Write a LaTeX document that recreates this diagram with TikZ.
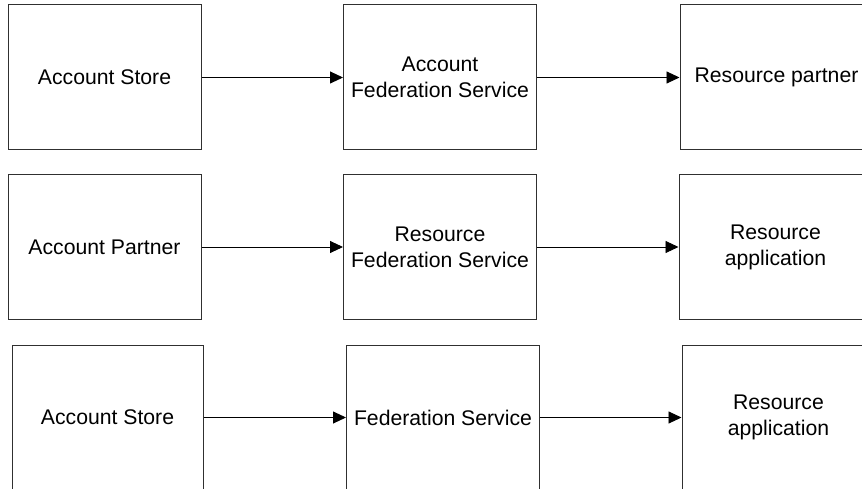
\documentclass[tikz,border=0pt]{standalone}
\usepackage{fontspec}
\setmainfont{Liberation Sans}
\usetikzlibrary{arrows.meta}
\definecolor{boxline}{HTML}{303030}
\begin{document}
\begin{tikzpicture}[x=1pt,y=-1pt,
  blockbox/.style={draw=boxline,line width=1pt,minimum width=193pt,minimum height=145pt,inner sep=0pt,align=center,font=\fontsize{21.2}{26}\selectfont},
  flow/.style={line width=0.9pt,-{Triangle[length=13pt,width=12pt]}}]
\useasboundingbox (0,0) rectangle (862,489);
\clip (0,0) rectangle (862,489);
% row 1
\node[blockbox] (a1) at (104.5,77.5) {Account Store};
\node[blockbox] (a2) at (440,77.5) {Account\\Federation Service};
\node[blockbox] (a3) at (776.5,77.5) {Resource partner};
% row 2
\node[blockbox] (b1) at (104.5,247) {Account Partner};
\node[blockbox] (b2) at (440,247) {Resource\\Federation Service};
\node[blockbox] (b3) at (775.5,247) {Resource\\application};
% row 3
\node[blockbox,minimum width=191pt] (c1) at (107.5,417.5) {Account Store};
\node[blockbox] (c2) at (443,417.5) {Federation Service};
\node[blockbox] (c3) at (778.5,417.5) {Resource\\application};
\draw[flow] (a1) -- (a2);
\draw[flow] (a2) -- (a3);
\draw[flow] (b1) -- (b2);
\draw[flow] (b2) -- (b3);
\draw[flow] (c1) -- (c2);
\draw[flow] (c2) -- (c3);
\end{tikzpicture}
\end{document}
